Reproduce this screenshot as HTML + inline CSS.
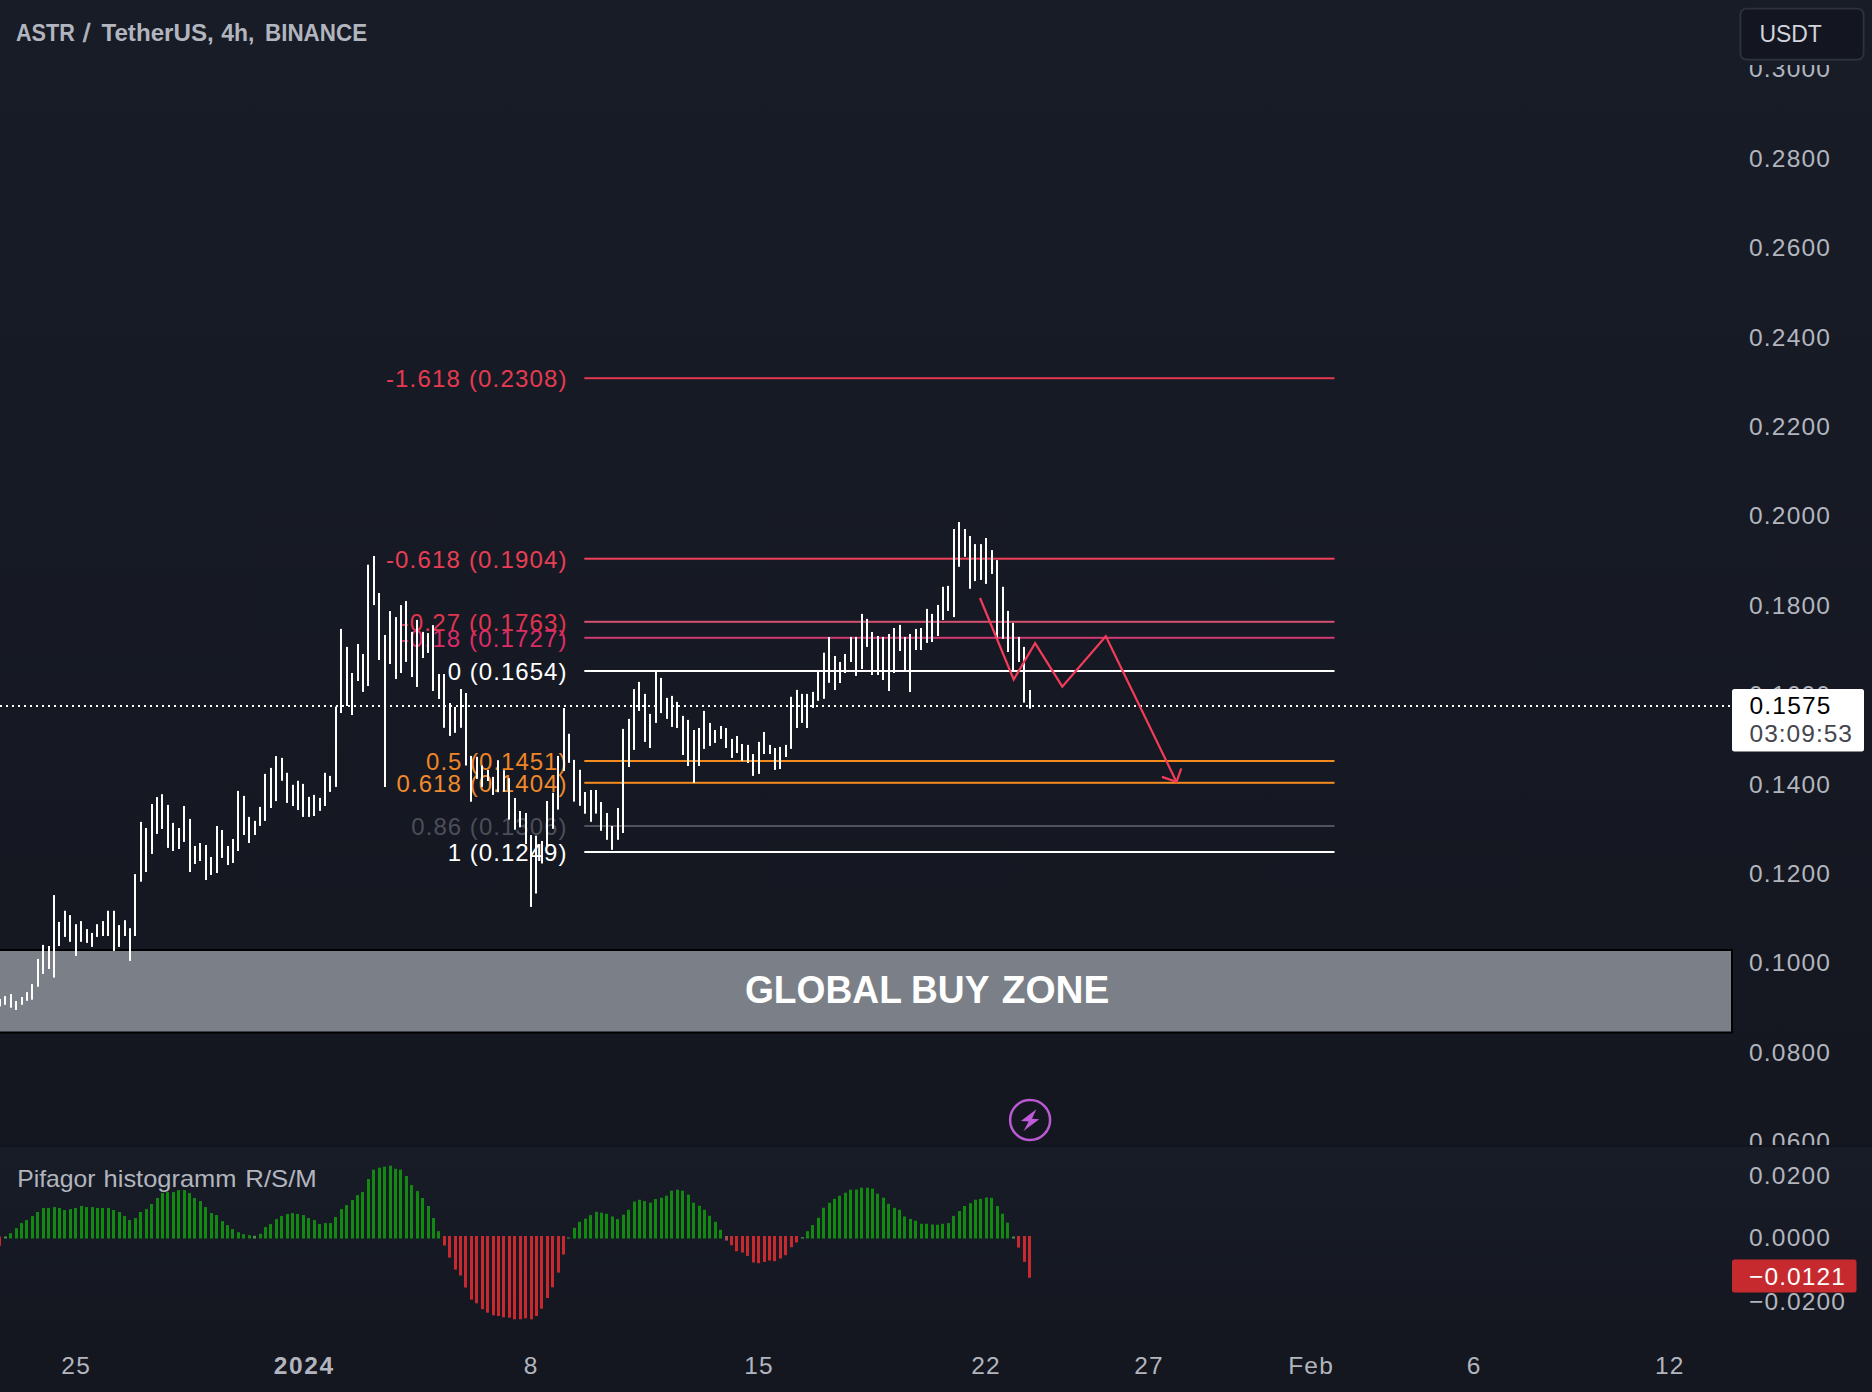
<!DOCTYPE html>
<html lang="en">
<head>
<meta charset="utf-8">
<title>ASTR / TetherUS, 4h, BINANCE</title>
<style>
html,body{margin:0;padding:0;background:#131722;}
body{width:1872px;height:1392px;overflow:hidden;font-family:"Liberation Sans",sans-serif;}
svg{display:block;}
text{font-family:"Liberation Sans",sans-serif;}
</style>
</head>
<body>
<svg width="1872" height="1392" viewBox="0 0 1872 1392">
<defs>
<linearGradient id="gp" x1="0" y1="0" x2="0" y2="1">
<stop offset="0" stop-color="#181c27"/><stop offset="1" stop-color="#141720"/>
</linearGradient>
</defs>

<rect x="0" y="0" width="1872" height="1392" fill="#141720"/>
<rect x="0" y="0" width="1872" height="1145" fill="url(#gp)"/>
<rect x="0" y="1145" width="1872" height="2" fill="#11141d"/>
<rect x="0" y="1147" width="1872" height="193" fill="url(#gp)"/>
<clipPath id="cm"><rect x="0" y="0" width="1872" height="1145"/></clipPath>
<g clip-path="url(#cm)" fill="#b2b5be" font-size="24.5">
<text x="1749" y="77.3" textLength="81" lengthAdjust="spacing">0.3000</text>
<text x="1749" y="166.7" textLength="81" lengthAdjust="spacing">0.2800</text>
<text x="1749" y="256.1" textLength="81" lengthAdjust="spacing">0.2600</text>
<text x="1749" y="345.5" textLength="81" lengthAdjust="spacing">0.2400</text>
<text x="1749" y="434.9" textLength="81" lengthAdjust="spacing">0.2200</text>
<text x="1749" y="524.3" textLength="81" lengthAdjust="spacing">0.2000</text>
<text x="1749" y="613.7" textLength="81" lengthAdjust="spacing">0.1800</text>
<text x="1749" y="703.1" textLength="81" lengthAdjust="spacing">0.1600</text>
<text x="1749" y="792.5" textLength="81" lengthAdjust="spacing">0.1400</text>
<text x="1749" y="881.9" textLength="81" lengthAdjust="spacing">0.1200</text>
<text x="1749" y="971.3" textLength="81" lengthAdjust="spacing">0.1000</text>
<text x="1749" y="1060.7" textLength="81" lengthAdjust="spacing">0.0800</text>
<text x="1749" y="1150.1" textLength="81" lengthAdjust="spacing">0.0600</text>
</g>
<rect x="-4" y="950" width="1736" height="82.5" fill="#7b7f87" stroke="#000" stroke-width="2"/>
<rect x="584.3" y="377.2" width="750.2" height="2" fill="#e23a52"/>
<text x="385.9" y="387.2" font-size="24" fill="#e63a50" textLength="180.7" lengthAdjust="spacing">-1.618 (0.2308)</text>
<rect x="584.3" y="557.7" width="750.2" height="2" fill="#f23f58"/>
<text x="385.9" y="567.7" font-size="24" fill="#e83e55" textLength="180.7" lengthAdjust="spacing">-0.618 (0.1904)</text>
<rect x="584.3" y="620.8" width="750.2" height="2" fill="#d5506e"/>
<text x="400.7" y="630.8" font-size="24" fill="#e0354f" textLength="165.8" lengthAdjust="spacing">-0.27 (0.1763)</text>
<rect x="584.3" y="636.8" width="750.2" height="2" fill="#cf3a72"/>
<text x="400.7" y="646.8" font-size="24" fill="#dc2c68" textLength="165.8" lengthAdjust="spacing">-0.18 (0.1727)</text>
<rect x="584.3" y="670.0" width="750.2" height="2" fill="#ffffff"/>
<text x="447.7" y="680.0" font-size="24" fill="#ffffff" textLength="118.8" lengthAdjust="spacing">0 (0.1654)</text>
<rect x="584.3" y="760.0" width="750.2" height="2" fill="#f58a1f"/>
<text x="426.1" y="770.0" font-size="24" fill="#ee8526" textLength="140.3" lengthAdjust="spacing">0.5 (0.1451)</text>
<rect x="584.3" y="781.8" width="750.2" height="2" fill="#f58a1f"/>
<text x="396.5" y="791.8" font-size="24" fill="#f08a2c" textLength="170.0" lengthAdjust="spacing">0.618 (0.1404)</text>
<rect x="584.3" y="825.0" width="750.2" height="2" fill="#50535e"/>
<text x="411.3" y="835.0" font-size="24" fill="#4b4e59" textLength="155.2" lengthAdjust="spacing">0.86 (0.1306)</text>
<rect x="584.3" y="851.0" width="750.2" height="2" fill="#ffffff"/>
<text x="447.7" y="861.0" font-size="24" fill="#ffffff" textLength="118.8" lengthAdjust="spacing">1 (0.1249)</text>
<g fill="#ffffff">
<rect x="-1" y="999.0" width="2" height="7.4"/>
<rect x="4" y="996.1" width="2" height="8.7"/>
<rect x="10" y="994.1" width="2" height="13.6"/>
<rect x="15" y="1001.0" width="2" height="9.0"/>
<rect x="21" y="997.0" width="2" height="7.8"/>
<rect x="26" y="992.1" width="2" height="8.7"/>
<rect x="31" y="984.1" width="2" height="15.6"/>
<rect x="37" y="958.9" width="2" height="27.8"/>
<rect x="42" y="944.9" width="2" height="29.0"/>
<rect x="48" y="946.0" width="2" height="23.0"/>
<rect x="53" y="895.1" width="2" height="82.5"/>
<rect x="58" y="921.9" width="2" height="24.1"/>
<rect x="64" y="910.8" width="2" height="26.1"/>
<rect x="69" y="915.1" width="2" height="26.7"/>
<rect x="75" y="924.2" width="2" height="31.7"/>
<rect x="80" y="921.1" width="2" height="20.7"/>
<rect x="86" y="929.1" width="2" height="13.8"/>
<rect x="91" y="932.9" width="2" height="14.0"/>
<rect x="96" y="924.2" width="2" height="12.7"/>
<rect x="102" y="921.1" width="2" height="14.9"/>
<rect x="107" y="910.8" width="2" height="25.2"/>
<rect x="113" y="910.8" width="2" height="40.1"/>
<rect x="118" y="925.1" width="2" height="21.8"/>
<rect x="124" y="920.2" width="2" height="15.8"/>
<rect x="129" y="928.2" width="2" height="32.7"/>
<rect x="134" y="874.1" width="2" height="61.9"/>
<rect x="140" y="821.9" width="2" height="59.8"/>
<rect x="145" y="828.0" width="2" height="44.0"/>
<rect x="151" y="804.0" width="2" height="49.9"/>
<rect x="156" y="797.1" width="2" height="36.8"/>
<rect x="161" y="794.2" width="2" height="34.7"/>
<rect x="167" y="804.9" width="2" height="43.0"/>
<rect x="172" y="822.9" width="2" height="28.1"/>
<rect x="178" y="828.0" width="2" height="21.0"/>
<rect x="183" y="806.0" width="2" height="35.9"/>
<rect x="189" y="818.9" width="2" height="53.1"/>
<rect x="194" y="846.0" width="2" height="18.0"/>
<rect x="199" y="843.0" width="2" height="18.0"/>
<rect x="205" y="845.0" width="2" height="35.0"/>
<rect x="210" y="857.0" width="2" height="18.0"/>
<rect x="216" y="826.0" width="2" height="47.0"/>
<rect x="221" y="830.0" width="2" height="27.9"/>
<rect x="227" y="846.0" width="2" height="19.0"/>
<rect x="232" y="839.0" width="2" height="24.0"/>
<rect x="237" y="790.9" width="2" height="60.1"/>
<rect x="243" y="795.9" width="2" height="39.1"/>
<rect x="248" y="816.9" width="2" height="26.1"/>
<rect x="254" y="820.9" width="2" height="14.1"/>
<rect x="259" y="806.9" width="2" height="19.0"/>
<rect x="264" y="773.9" width="2" height="47.0"/>
<rect x="270" y="767.9" width="2" height="40.1"/>
<rect x="275" y="756.1" width="2" height="45.0"/>
<rect x="281" y="757.9" width="2" height="22.9"/>
<rect x="286" y="772.8" width="2" height="30.1"/>
<rect x="292" y="784.8" width="2" height="21.2"/>
<rect x="297" y="780.8" width="2" height="29.2"/>
<rect x="302" y="783.9" width="2" height="33.0"/>
<rect x="308" y="796.9" width="2" height="20.0"/>
<rect x="313" y="794.9" width="2" height="21.1"/>
<rect x="319" y="797.9" width="2" height="13.0"/>
<rect x="324" y="772.8" width="2" height="33.2"/>
<rect x="329" y="775.9" width="2" height="16.0"/>
<rect x="335" y="706.6" width="2" height="80.3"/>
<rect x="340" y="628.9" width="2" height="84.1"/>
<rect x="346" y="646.9" width="2" height="59.1"/>
<rect x="351" y="673.0" width="2" height="42.0"/>
<rect x="357" y="644.0" width="2" height="37.0"/>
<rect x="362" y="654.0" width="2" height="37.9"/>
<rect x="367" y="564.7" width="2" height="121.3"/>
<rect x="373" y="556.0" width="2" height="49.1"/>
<rect x="378" y="593.0" width="2" height="67.0"/>
<rect x="384" y="635.0" width="2" height="152.0"/>
<rect x="389" y="611.1" width="2" height="52.9"/>
<rect x="395" y="617.1" width="2" height="61.9"/>
<rect x="400" y="605.1" width="2" height="67.9"/>
<rect x="405" y="601.1" width="2" height="60.8"/>
<rect x="411" y="631.9" width="2" height="45.1"/>
<rect x="416" y="619.9" width="2" height="67.1"/>
<rect x="422" y="631.9" width="2" height="26.1"/>
<rect x="427" y="633.1" width="2" height="19.8"/>
<rect x="432" y="625.1" width="2" height="65.9"/>
<rect x="438" y="674.0" width="2" height="25.0"/>
<rect x="443" y="674.0" width="2" height="53.8"/>
<rect x="449" y="703.0" width="2" height="32.9"/>
<rect x="454" y="707.0" width="2" height="25.8"/>
<rect x="460" y="689.0" width="2" height="38.8"/>
<rect x="465" y="693.0" width="2" height="72.5"/>
<rect x="470" y="755.9" width="2" height="45.8"/>
<rect x="476" y="756.8" width="2" height="22.1"/>
<rect x="481" y="765.5" width="2" height="21.4"/>
<rect x="487" y="770.0" width="2" height="11.0"/>
<rect x="492" y="776.9" width="2" height="18.0"/>
<rect x="497" y="760.2" width="2" height="32.0"/>
<rect x="503" y="770.2" width="2" height="21.4"/>
<rect x="508" y="778.2" width="2" height="41.4"/>
<rect x="514" y="798.0" width="2" height="31.7"/>
<rect x="519" y="811.0" width="2" height="16.3"/>
<rect x="525" y="813.0" width="2" height="31.0"/>
<rect x="530" y="835.1" width="2" height="71.8"/>
<rect x="535" y="835.7" width="2" height="57.8"/>
<rect x="541" y="841.0" width="2" height="22.5"/>
<rect x="546" y="801.0" width="2" height="45.0"/>
<rect x="552" y="792.8" width="2" height="36.0"/>
<rect x="557" y="755.9" width="2" height="53.7"/>
<rect x="563" y="708.0" width="2" height="62.9"/>
<rect x="568" y="733.8" width="2" height="29.0"/>
<rect x="573" y="759.9" width="2" height="41.7"/>
<rect x="579" y="769.8" width="2" height="36.0"/>
<rect x="584" y="792.0" width="2" height="21.7"/>
<rect x="590" y="790.0" width="2" height="31.8"/>
<rect x="595" y="790.0" width="2" height="23.6"/>
<rect x="600" y="802.0" width="2" height="28.8"/>
<rect x="606" y="813.0" width="2" height="26.8"/>
<rect x="611" y="826.0" width="2" height="23.8"/>
<rect x="617" y="808.0" width="2" height="31.8"/>
<rect x="622" y="728.9" width="2" height="104.1"/>
<rect x="628" y="718.9" width="2" height="48.1"/>
<rect x="633" y="689.1" width="2" height="60.8"/>
<rect x="638" y="681.9" width="2" height="29.0"/>
<rect x="644" y="693.9" width="2" height="48.0"/>
<rect x="649" y="713.9" width="2" height="34.1"/>
<rect x="655" y="671.4" width="2" height="51.5"/>
<rect x="660" y="677.9" width="2" height="35.2"/>
<rect x="666" y="697.9" width="2" height="21.0"/>
<rect x="671" y="695.9" width="2" height="31.0"/>
<rect x="676" y="701.9" width="2" height="26.1"/>
<rect x="682" y="715.9" width="2" height="39.1"/>
<rect x="687" y="719.9" width="2" height="46.1"/>
<rect x="693" y="730.0" width="2" height="53.0"/>
<rect x="698" y="728.0" width="2" height="38.0"/>
<rect x="703" y="710.9" width="2" height="38.0"/>
<rect x="709" y="722.9" width="2" height="23.0"/>
<rect x="714" y="730.0" width="2" height="12.9"/>
<rect x="720" y="726.0" width="2" height="12.9"/>
<rect x="725" y="728.0" width="2" height="20.0"/>
<rect x="731" y="738.9" width="2" height="19.0"/>
<rect x="736" y="736.0" width="2" height="17.0"/>
<rect x="741" y="744.0" width="2" height="17.0"/>
<rect x="747" y="744.9" width="2" height="18.1"/>
<rect x="752" y="754.0" width="2" height="21.9"/>
<rect x="758" y="741.9" width="2" height="32.0"/>
<rect x="763" y="732.0" width="2" height="22.0"/>
<rect x="769" y="744.9" width="2" height="9.1"/>
<rect x="774" y="748.0" width="2" height="21.9"/>
<rect x="779" y="746.9" width="2" height="22.1"/>
<rect x="785" y="744.9" width="2" height="12.1"/>
<rect x="790" y="696.8" width="2" height="52.1"/>
<rect x="796" y="689.9" width="2" height="38.1"/>
<rect x="801" y="693.9" width="2" height="29.0"/>
<rect x="806" y="693.9" width="2" height="34.1"/>
<rect x="812" y="691.9" width="2" height="16.0"/>
<rect x="817" y="671.4" width="2" height="29.4"/>
<rect x="823" y="652.7" width="2" height="46.1"/>
<rect x="828" y="637.0" width="2" height="45.8"/>
<rect x="834" y="656.0" width="2" height="34.0"/>
<rect x="839" y="662.0" width="2" height="21.0"/>
<rect x="844" y="654.0" width="2" height="19.0"/>
<rect x="850" y="636.9" width="2" height="25.1"/>
<rect x="855" y="636.9" width="2" height="39.0"/>
<rect x="861" y="613.9" width="2" height="55.1"/>
<rect x="866" y="618.9" width="2" height="28.0"/>
<rect x="871" y="632.0" width="2" height="43.0"/>
<rect x="877" y="636.0" width="2" height="39.0"/>
<rect x="882" y="636.9" width="2" height="43.1"/>
<rect x="888" y="634.0" width="2" height="57.0"/>
<rect x="893" y="628.0" width="2" height="45.0"/>
<rect x="899" y="624.9" width="2" height="26.1"/>
<rect x="904" y="636.9" width="2" height="33.4"/>
<rect x="909" y="634.0" width="2" height="58.0"/>
<rect x="915" y="628.9" width="2" height="21.1"/>
<rect x="920" y="628.0" width="2" height="22.0"/>
<rect x="926" y="608.9" width="2" height="34.0"/>
<rect x="931" y="613.9" width="2" height="28.1"/>
<rect x="937" y="604.9" width="2" height="31.1"/>
<rect x="942" y="586.8" width="2" height="33.2"/>
<rect x="947" y="585.9" width="2" height="25.0"/>
<rect x="953" y="529.0" width="2" height="88.1"/>
<rect x="958" y="522.0" width="2" height="44.8"/>
<rect x="964" y="529.0" width="2" height="27.8"/>
<rect x="969" y="536.0" width="2" height="52.8"/>
<rect x="974" y="544.1" width="2" height="37.0"/>
<rect x="980" y="544.1" width="2" height="35.8"/>
<rect x="985" y="538.0" width="2" height="45.9"/>
<rect x="991" y="550.1" width="2" height="23.8"/>
<rect x="996" y="560.1" width="2" height="77.8"/>
<rect x="1002" y="586.8" width="2" height="52.1"/>
<rect x="1007" y="610.9" width="2" height="41.1"/>
<rect x="1012" y="622.9" width="2" height="49.1"/>
<rect x="1018" y="636.9" width="2" height="25.1"/>
<rect x="1023" y="646.9" width="2" height="55.7"/>
<rect x="1029" y="690.0" width="2" height="18.6"/>
</g>
<line x1="0" y1="706" x2="1732" y2="706" stroke="#ffffff" stroke-width="2" stroke-dasharray="2 4"/>
<polyline points="980,598 1013.7,679.5 1035.1,643.2 1062.3,686.6 1105.8,636.2 1176.5,781.9" fill="none" stroke="#f23c5a" stroke-width="2.2" stroke-linejoin="miter"/>
<polyline points="1161.9,776.9 1176.5,781.9 1181.3,768.3" fill="none" stroke="#f23c5a" stroke-width="2.2"/>
<g font-size="38" font-weight="bold" fill="#ffffff">
<text x="744.9" y="1003.4" textLength="157.0" lengthAdjust="spacingAndGlyphs">GLOBAL</text>
<text x="911.0" y="1003.4" textLength="78.4" lengthAdjust="spacingAndGlyphs">BUY</text>
<text x="1001.8" y="1003.4" textLength="107.6" lengthAdjust="spacingAndGlyphs">ZONE</text>
</g>
<g transform="translate(1030.1,1120)"><circle r="20" fill="none" stroke="#b95ad2" stroke-width="2.5"/><path d="M6.3,-10.8 L-9.2,0.9 L-1.4,1.4 L-6.6,11 L9.2,-0.8 L1.9,-1.2 Z" fill="#c05ad8"/></g>
<g font-size="24" font-weight="bold" fill="#b2b5be">
<text x="16.0" y="40.6" textLength="58.8" lengthAdjust="spacingAndGlyphs">ASTR</text>
<text x="82.9" y="41.6" font-size="26" font-weight="normal" stroke="#b2b5be" stroke-width="0.7">/</text>
<text x="101.5" y="40.6" textLength="112.2" lengthAdjust="spacingAndGlyphs">TetherUS,</text>
<text x="221.2" y="40.6" textLength="33.1" lengthAdjust="spacingAndGlyphs">4h,</text>
<text x="265.0" y="40.6" textLength="102.1" lengthAdjust="spacingAndGlyphs">BINANCE</text>
</g>
<rect x="1732" y="0" width="140" height="65" fill="#181c27"/>
<rect x="1740.4" y="8.6" width="123.2" height="51" rx="6" ry="6" fill="#131620" stroke="#2d323f" stroke-width="1.8"/>
<text x="1759.4" y="41.8" font-size="24" fill="#d1d4dc" textLength="62.5" lengthAdjust="spacingAndGlyphs">USDT</text>
<rect x="1732" y="689" width="132" height="62.5" rx="2.5" ry="2.5" fill="#ffffff"/>
<text x="1749.5" y="714.4" font-size="24.5" fill="#000000" textLength="81" lengthAdjust="spacing">0.1575</text>
<text x="1749.5" y="742" font-size="24.5" fill="#45464d" textLength="102.5" lengthAdjust="spacing">03:09:53</text>
<g font-size="24" fill="#b2b5be">
<text x="17.2" y="1187.4" textLength="78.3" lengthAdjust="spacingAndGlyphs">Pifagor</text>
<text x="103.6" y="1187.4" textLength="132.9" lengthAdjust="spacingAndGlyphs">histogramm</text>
<text x="245.3" y="1187.4" textLength="71.5" lengthAdjust="spacingAndGlyphs">R/S/M</text>
</g>
<rect x="-2" y="1236.5" width="3" height="9.4" fill="#c8292f"/>
<rect x="4" y="1236.5" width="3" height="2.0" fill="#4f8a55"/>
<rect x="9" y="1233.2" width="3" height="5.3" fill="#128a12"/>
<rect x="15" y="1228.2" width="3" height="10.3" fill="#128a12"/>
<rect x="20" y="1223.1" width="3" height="15.4" fill="#128a12"/>
<rect x="25" y="1220.1" width="3" height="18.4" fill="#128a12"/>
<rect x="31" y="1216.1" width="3" height="22.4" fill="#128a12"/>
<rect x="36" y="1212.0" width="3" height="26.5" fill="#128a12"/>
<rect x="42" y="1208.0" width="3" height="30.5" fill="#128a12"/>
<rect x="47" y="1208.0" width="3" height="30.5" fill="#128a12"/>
<rect x="53" y="1207.1" width="3" height="31.4" fill="#128a12"/>
<rect x="58" y="1208.0" width="3" height="30.5" fill="#128a12"/>
<rect x="63" y="1210.0" width="3" height="28.5" fill="#128a12"/>
<rect x="69" y="1209.1" width="3" height="29.4" fill="#128a12"/>
<rect x="74" y="1208.0" width="3" height="30.5" fill="#128a12"/>
<rect x="80" y="1206.0" width="3" height="32.5" fill="#128a12"/>
<rect x="85" y="1207.1" width="3" height="31.4" fill="#128a12"/>
<rect x="91" y="1207.1" width="3" height="31.4" fill="#128a12"/>
<rect x="96" y="1208.0" width="3" height="30.5" fill="#128a12"/>
<rect x="101" y="1208.0" width="3" height="30.5" fill="#128a12"/>
<rect x="107" y="1208.0" width="3" height="30.5" fill="#128a12"/>
<rect x="112" y="1210.0" width="3" height="28.5" fill="#128a12"/>
<rect x="118" y="1212.0" width="3" height="26.5" fill="#128a12"/>
<rect x="123" y="1216.1" width="3" height="22.4" fill="#128a12"/>
<rect x="128" y="1220.1" width="3" height="18.4" fill="#128a12"/>
<rect x="134" y="1218.1" width="3" height="20.4" fill="#128a12"/>
<rect x="139" y="1212.0" width="3" height="26.5" fill="#128a12"/>
<rect x="145" y="1209.1" width="3" height="29.4" fill="#128a12"/>
<rect x="150" y="1204.0" width="3" height="34.5" fill="#128a12"/>
<rect x="156" y="1198.0" width="3" height="40.5" fill="#128a12"/>
<rect x="161" y="1193.1" width="3" height="45.4" fill="#128a12"/>
<rect x="166" y="1192.1" width="3" height="46.4" fill="#128a12"/>
<rect x="172" y="1192.1" width="3" height="46.4" fill="#128a12"/>
<rect x="177" y="1190.1" width="3" height="48.4" fill="#128a12"/>
<rect x="183" y="1190.1" width="3" height="48.4" fill="#128a12"/>
<rect x="188" y="1193.1" width="3" height="45.4" fill="#128a12"/>
<rect x="193" y="1198.0" width="3" height="40.5" fill="#128a12"/>
<rect x="199" y="1201.1" width="3" height="37.4" fill="#128a12"/>
<rect x="204" y="1207.1" width="3" height="31.4" fill="#128a12"/>
<rect x="210" y="1213.1" width="3" height="25.4" fill="#128a12"/>
<rect x="215" y="1215.1" width="3" height="23.4" fill="#128a12"/>
<rect x="221" y="1221.1" width="3" height="17.4" fill="#128a12"/>
<rect x="226" y="1225.1" width="3" height="13.4" fill="#128a12"/>
<rect x="231" y="1229.1" width="3" height="9.4" fill="#128a12"/>
<rect x="237" y="1232.2" width="3" height="6.3" fill="#128a12"/>
<rect x="242" y="1234.2" width="3" height="4.3" fill="#128a12"/>
<rect x="248" y="1235.2" width="3" height="3.3" fill="#128a12"/>
<rect x="253" y="1235.8" width="3" height="2.7" fill="#4f8a55"/>
<rect x="259" y="1233.8" width="3" height="4.7" fill="#128a12"/>
<rect x="264" y="1227.1" width="3" height="11.4" fill="#128a12"/>
<rect x="269" y="1224.1" width="3" height="14.4" fill="#128a12"/>
<rect x="275" y="1219.1" width="3" height="19.4" fill="#128a12"/>
<rect x="280" y="1216.1" width="3" height="22.4" fill="#128a12"/>
<rect x="286" y="1214.0" width="3" height="24.5" fill="#128a12"/>
<rect x="291" y="1213.1" width="3" height="25.4" fill="#128a12"/>
<rect x="296" y="1214.0" width="3" height="24.5" fill="#128a12"/>
<rect x="302" y="1215.1" width="3" height="23.4" fill="#128a12"/>
<rect x="307" y="1218.1" width="3" height="20.4" fill="#128a12"/>
<rect x="313" y="1220.1" width="3" height="18.4" fill="#128a12"/>
<rect x="318" y="1224.1" width="3" height="14.4" fill="#128a12"/>
<rect x="324" y="1223.1" width="3" height="15.4" fill="#128a12"/>
<rect x="329" y="1223.1" width="3" height="15.4" fill="#128a12"/>
<rect x="334" y="1217.1" width="3" height="21.4" fill="#128a12"/>
<rect x="340" y="1209.1" width="3" height="29.4" fill="#128a12"/>
<rect x="345" y="1205.1" width="3" height="33.4" fill="#128a12"/>
<rect x="351" y="1200.0" width="3" height="38.5" fill="#128a12"/>
<rect x="356" y="1195.1" width="3" height="43.4" fill="#128a12"/>
<rect x="361" y="1192.1" width="3" height="46.4" fill="#128a12"/>
<rect x="367" y="1179.0" width="3" height="59.5" fill="#128a12"/>
<rect x="372" y="1169.7" width="3" height="68.8" fill="#128a12"/>
<rect x="378" y="1167.7" width="3" height="70.8" fill="#128a12"/>
<rect x="383" y="1166.7" width="3" height="71.8" fill="#128a12"/>
<rect x="389" y="1165.7" width="3" height="72.8" fill="#128a12"/>
<rect x="394" y="1168.8" width="3" height="69.7" fill="#128a12"/>
<rect x="399" y="1169.7" width="3" height="68.8" fill="#128a12"/>
<rect x="405" y="1176.0" width="3" height="62.5" fill="#128a12"/>
<rect x="410" y="1185.1" width="3" height="53.4" fill="#128a12"/>
<rect x="416" y="1191.1" width="3" height="47.4" fill="#128a12"/>
<rect x="421" y="1198.0" width="3" height="40.5" fill="#128a12"/>
<rect x="427" y="1206.0" width="3" height="32.5" fill="#128a12"/>
<rect x="432" y="1218.1" width="3" height="20.4" fill="#128a12"/>
<rect x="437" y="1231.2" width="3" height="7.3" fill="#128a12"/>
<rect x="443" y="1236.0" width="3" height="9.5" fill="#c8292f"/>
<rect x="448" y="1236.0" width="3" height="21.6" fill="#c8292f"/>
<rect x="454" y="1236.0" width="3" height="33.6" fill="#c8292f"/>
<rect x="459" y="1236.0" width="3" height="39.5" fill="#c8292f"/>
<rect x="464" y="1236.0" width="3" height="51.5" fill="#c8292f"/>
<rect x="470" y="1236.0" width="3" height="63.6" fill="#c8292f"/>
<rect x="475" y="1236.0" width="3" height="67.3" fill="#c8292f"/>
<rect x="481" y="1236.0" width="3" height="73.1" fill="#c8292f"/>
<rect x="486" y="1236.0" width="3" height="76.7" fill="#c8292f"/>
<rect x="492" y="1236.0" width="3" height="79.3" fill="#c8292f"/>
<rect x="497" y="1236.0" width="3" height="80.0" fill="#c8292f"/>
<rect x="502" y="1236.0" width="3" height="81.3" fill="#c8292f"/>
<rect x="508" y="1236.0" width="3" height="81.7" fill="#c8292f"/>
<rect x="513" y="1236.0" width="3" height="83.3" fill="#c8292f"/>
<rect x="519" y="1236.0" width="3" height="83.3" fill="#c8292f"/>
<rect x="524" y="1236.0" width="3" height="82.3" fill="#c8292f"/>
<rect x="530" y="1236.0" width="3" height="83.3" fill="#c8292f"/>
<rect x="535" y="1236.0" width="3" height="80.0" fill="#c8292f"/>
<rect x="540" y="1236.0" width="3" height="72.7" fill="#c8292f"/>
<rect x="546" y="1236.0" width="3" height="62.0" fill="#c8292f"/>
<rect x="551" y="1236.0" width="3" height="51.3" fill="#c8292f"/>
<rect x="557" y="1236.0" width="3" height="36.6" fill="#c8292f"/>
<rect x="562" y="1236.0" width="3" height="18.5" fill="#c8292f"/>
<rect x="567" y="1237.5" width="3" height="1.0" fill="#4f8a55"/>
<rect x="573" y="1227.8" width="3" height="10.7" fill="#128a12"/>
<rect x="578" y="1221.8" width="3" height="16.7" fill="#128a12"/>
<rect x="584" y="1218.7" width="3" height="19.8" fill="#128a12"/>
<rect x="589" y="1215.1" width="3" height="23.4" fill="#128a12"/>
<rect x="595" y="1211.8" width="3" height="26.7" fill="#128a12"/>
<rect x="600" y="1212.7" width="3" height="25.8" fill="#128a12"/>
<rect x="605" y="1213.8" width="3" height="24.7" fill="#128a12"/>
<rect x="611" y="1216.5" width="3" height="22.0" fill="#128a12"/>
<rect x="616" y="1219.1" width="3" height="19.4" fill="#128a12"/>
<rect x="622" y="1214.7" width="3" height="23.8" fill="#128a12"/>
<rect x="627" y="1209.8" width="3" height="28.7" fill="#128a12"/>
<rect x="633" y="1201.5" width="3" height="37.0" fill="#128a12"/>
<rect x="638" y="1199.8" width="3" height="38.7" fill="#128a12"/>
<rect x="643" y="1201.1" width="3" height="37.4" fill="#128a12"/>
<rect x="649" y="1202.7" width="3" height="35.8" fill="#128a12"/>
<rect x="654" y="1199.1" width="3" height="39.4" fill="#128a12"/>
<rect x="660" y="1197.7" width="3" height="40.8" fill="#128a12"/>
<rect x="665" y="1195.7" width="3" height="42.8" fill="#128a12"/>
<rect x="670" y="1190.7" width="3" height="47.8" fill="#128a12"/>
<rect x="676" y="1189.7" width="3" height="48.8" fill="#128a12"/>
<rect x="681" y="1190.7" width="3" height="47.8" fill="#128a12"/>
<rect x="687" y="1194.7" width="3" height="43.8" fill="#128a12"/>
<rect x="692" y="1202.7" width="3" height="35.8" fill="#128a12"/>
<rect x="698" y="1205.8" width="3" height="32.7" fill="#128a12"/>
<rect x="703" y="1209.8" width="3" height="28.7" fill="#128a12"/>
<rect x="708" y="1215.8" width="3" height="22.7" fill="#128a12"/>
<rect x="714" y="1221.8" width="3" height="16.7" fill="#128a12"/>
<rect x="719" y="1229.8" width="3" height="8.7" fill="#128a12"/>
<rect x="725" y="1236.0" width="3" height="4.5" fill="#a0505a"/>
<rect x="730" y="1236.0" width="3" height="9.2" fill="#c8292f"/>
<rect x="735" y="1236.0" width="3" height="15.2" fill="#c8292f"/>
<rect x="741" y="1236.0" width="3" height="16.5" fill="#c8292f"/>
<rect x="746" y="1236.0" width="3" height="19.9" fill="#c8292f"/>
<rect x="752" y="1236.0" width="3" height="26.5" fill="#c8292f"/>
<rect x="757" y="1236.0" width="3" height="27.2" fill="#c8292f"/>
<rect x="763" y="1236.0" width="3" height="25.9" fill="#c8292f"/>
<rect x="768" y="1236.0" width="3" height="24.5" fill="#c8292f"/>
<rect x="773" y="1236.0" width="3" height="25.2" fill="#c8292f"/>
<rect x="779" y="1236.0" width="3" height="22.5" fill="#c8292f"/>
<rect x="784" y="1236.0" width="3" height="19.2" fill="#c8292f"/>
<rect x="790" y="1236.0" width="3" height="11.2" fill="#c8292f"/>
<rect x="795" y="1236.0" width="3" height="6.5" fill="#c8292f"/>
<rect x="801" y="1237.2" width="3" height="1.3" fill="#4f8a55"/>
<rect x="806" y="1231.2" width="3" height="7.3" fill="#128a12"/>
<rect x="811" y="1225.1" width="3" height="13.4" fill="#128a12"/>
<rect x="817" y="1217.8" width="3" height="20.7" fill="#128a12"/>
<rect x="822" y="1207.8" width="3" height="30.7" fill="#128a12"/>
<rect x="828" y="1202.8" width="3" height="35.7" fill="#128a12"/>
<rect x="833" y="1198.8" width="3" height="39.7" fill="#128a12"/>
<rect x="838" y="1195.7" width="3" height="42.8" fill="#128a12"/>
<rect x="844" y="1192.7" width="3" height="45.8" fill="#128a12"/>
<rect x="849" y="1189.7" width="3" height="48.8" fill="#128a12"/>
<rect x="855" y="1189.5" width="3" height="49.0" fill="#128a12"/>
<rect x="860" y="1187.7" width="3" height="50.8" fill="#128a12"/>
<rect x="866" y="1187.7" width="3" height="50.8" fill="#128a12"/>
<rect x="871" y="1188.7" width="3" height="49.8" fill="#128a12"/>
<rect x="876" y="1193.7" width="3" height="44.8" fill="#128a12"/>
<rect x="882" y="1197.7" width="3" height="40.8" fill="#128a12"/>
<rect x="887" y="1203.8" width="3" height="34.7" fill="#128a12"/>
<rect x="893" y="1207.8" width="3" height="30.7" fill="#128a12"/>
<rect x="898" y="1209.8" width="3" height="28.7" fill="#128a12"/>
<rect x="903" y="1216.5" width="3" height="22.0" fill="#128a12"/>
<rect x="909" y="1218.9" width="3" height="19.6" fill="#128a12"/>
<rect x="914" y="1220.7" width="3" height="17.8" fill="#128a12"/>
<rect x="920" y="1223.8" width="3" height="14.7" fill="#128a12"/>
<rect x="925" y="1223.8" width="3" height="14.7" fill="#128a12"/>
<rect x="931" y="1224.5" width="3" height="14.0" fill="#128a12"/>
<rect x="936" y="1224.7" width="3" height="13.8" fill="#128a12"/>
<rect x="941" y="1223.8" width="3" height="14.7" fill="#128a12"/>
<rect x="947" y="1223.1" width="3" height="15.4" fill="#128a12"/>
<rect x="952" y="1215.9" width="3" height="22.6" fill="#128a12"/>
<rect x="958" y="1211.0" width="3" height="27.5" fill="#128a12"/>
<rect x="963" y="1206.0" width="3" height="32.5" fill="#128a12"/>
<rect x="969" y="1203.2" width="3" height="35.3" fill="#128a12"/>
<rect x="974" y="1199.7" width="3" height="38.8" fill="#128a12"/>
<rect x="979" y="1198.9" width="3" height="39.6" fill="#128a12"/>
<rect x="985" y="1197.4" width="3" height="41.1" fill="#128a12"/>
<rect x="990" y="1197.8" width="3" height="40.7" fill="#128a12"/>
<rect x="996" y="1206.1" width="3" height="32.4" fill="#128a12"/>
<rect x="1001" y="1213.7" width="3" height="24.8" fill="#128a12"/>
<rect x="1006" y="1222.7" width="3" height="15.8" fill="#128a12"/>
<rect x="1012" y="1236.5" width="3" height="2.0" fill="#4f8a55"/>
<rect x="1017" y="1236.0" width="3" height="11.6" fill="#c8292f"/>
<rect x="1023" y="1236.0" width="3" height="25.9" fill="#c8292f"/>
<rect x="1028" y="1236.0" width="3" height="41.8" fill="#c8292f"/>
<g fill="#b2b5be" font-size="24.5">
<text x="1749" y="1183.6" textLength="81" lengthAdjust="spacing">0.0200</text>
<text x="1749" y="1246.3" textLength="81" lengthAdjust="spacing">0.0000</text>
<text x="1749" y="1310" textLength="96" lengthAdjust="spacing">−0.0200</text>
</g>
<rect x="1732" y="1259.5" width="124.5" height="33" rx="2.5" ry="2.5" fill="#c62a2f"/>
<text x="1749" y="1284.8" font-size="24.5" fill="#ffffff" textLength="96" lengthAdjust="spacing">−0.0121</text>
<g fill="#b2b5be" font-size="24.5" text-anchor="middle">
<text x="76.2" y="1374.3" letter-spacing="1.2">25</text>
<text x="304.2" y="1374.3" font-weight="bold" letter-spacing="1.6">2024</text>
<text x="531.1" y="1374.3" letter-spacing="1.2">8</text>
<text x="759.1" y="1374.3" letter-spacing="1.2">15</text>
<text x="986.1" y="1374.3" letter-spacing="1.2">22</text>
<text x="1149.1" y="1374.3" letter-spacing="1.2">27</text>
<text x="1311.1" y="1374.3" letter-spacing="1.2">Feb</text>
<text x="1474.2" y="1374.3" letter-spacing="1.2">6</text>
<text x="1669.8" y="1374.3" letter-spacing="1.2">12</text>
</g>
</svg>
</body>
</html>
